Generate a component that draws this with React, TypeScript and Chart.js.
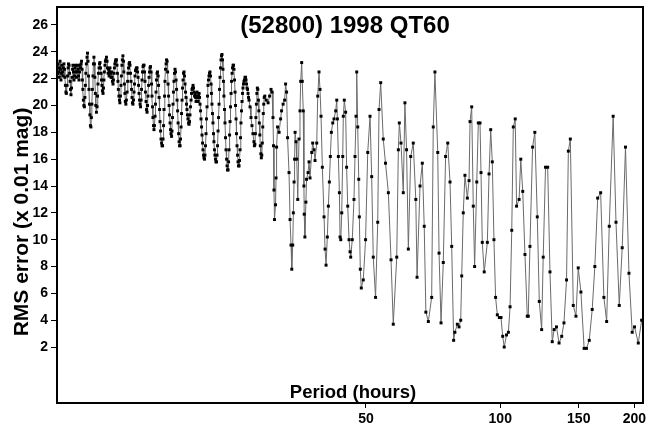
import React, { useEffect, useRef } from 'react';
import { Chart, registerables } from 'chart.js';

Chart.register(...registerables);

const chartTitle = '(52800) 1998 QT60';
const xAxisTitle = 'Period (hours)';
const yAxisTitle = 'RMS error (x 0.01 mag)';

const xTickValues = [50, 100, 150, 200];
const yTickValues = [2, 4, 6, 8, 10, 12, 14, 16, 18, 20, 22, 24, 26];

const periods = [
  10.14, 10.17, 10.19, 10.22, 10.25, 10.27, 10.30, 10.32, 10.35, 10.38, 10.40, 10.43, 10.46, 10.48, 10.51, 10.54, 10.56, 10.59, 10.62, 10.64,
  10.68, 10.71, 10.74, 10.76, 10.79, 10.82, 10.85, 10.87, 10.90, 10.93, 10.96, 10.99, 11.01, 11.04, 11.07, 11.10, 11.13, 11.15, 11.18, 11.21,
  11.24, 11.27, 11.30, 11.33, 11.36, 11.39, 11.42, 11.45, 11.48, 11.51, 11.54, 11.56, 11.59, 11.62, 11.65, 11.68, 11.71, 11.74, 11.77, 11.80,
  11.84, 11.87, 11.90, 11.93, 11.96, 11.99, 12.02, 12.05, 12.08, 12.11, 12.14, 12.17, 12.21, 12.24, 12.27, 12.30, 12.33, 12.36, 12.39, 12.43,
  12.47, 12.50, 12.53, 12.56, 12.60, 12.63, 12.66, 12.69, 12.73, 12.76, 12.79, 12.82, 12.86, 12.89, 12.92, 12.95, 12.99, 13.02, 13.05, 13.09,
  13.13, 13.16, 13.20, 13.23, 13.27, 13.30, 13.33, 13.37, 13.40, 13.44, 13.47, 13.50, 13.54, 13.57, 13.61, 13.64, 13.67, 13.71, 13.74, 13.78,
  13.82, 13.85, 13.89, 13.92, 13.96, 14.00, 14.03, 14.07, 14.11, 14.14, 14.18, 14.21, 14.25, 14.29, 14.32, 14.36, 14.40, 14.43, 14.47, 14.51,
  14.56, 14.60, 14.63, 14.67, 14.71, 14.75, 14.78, 14.82, 14.86, 14.90, 14.94, 14.97, 15.01, 15.05, 15.09, 15.13, 15.17, 15.21, 15.25, 15.29,
  15.33, 15.37, 15.41, 15.45, 15.49, 15.53, 15.57, 15.61, 15.65, 15.69, 15.73, 15.77, 15.81, 15.85, 15.89, 15.93, 15.97, 16.01, 16.06, 16.10,
  16.14, 16.18, 16.22, 16.27, 16.31, 16.35, 16.39, 16.43, 16.48, 16.52, 16.56, 16.60, 16.64, 16.69, 16.73, 16.77, 16.82, 16.86, 16.91, 16.95,
  17.00, 17.04, 17.09, 17.13, 17.18, 17.22, 17.26, 17.31, 17.35, 17.40, 17.44, 17.49, 17.53, 17.58, 17.62, 17.67, 17.71, 17.76, 17.81, 17.85,
  17.90, 17.95, 17.99, 18.04, 18.09, 18.13, 18.18, 18.22, 18.27, 18.32, 18.36, 18.41, 18.46, 18.50, 18.55, 18.60, 18.65, 18.70, 18.75, 18.80,
  18.85, 18.90, 18.95, 19.00, 19.05, 19.10, 19.14, 19.19, 19.24, 19.29, 19.34, 19.39, 19.44, 19.49, 19.54, 19.59, 19.64, 19.69, 19.74, 19.79,
  19.84, 19.89, 19.94, 20.00, 20.05, 20.10, 20.15, 20.20, 20.26, 20.31, 20.36, 20.41, 20.47, 20.52, 20.58, 20.63, 20.68, 20.74, 20.79, 20.85,
  20.90, 20.95, 21.01, 21.06, 21.12, 21.17, 21.22, 21.28, 21.33, 21.39, 21.44, 21.50, 21.55, 21.61, 21.66, 21.72, 21.77, 21.83, 21.89, 21.94,
  22.00, 22.06, 22.11, 22.17, 22.23, 22.29, 22.34, 22.40, 22.46, 22.51, 22.57, 22.63, 22.69, 22.75, 22.80, 22.86, 22.92, 22.98, 23.04, 23.11,
  23.17, 23.23, 23.29, 23.35, 23.41, 23.47, 23.53, 23.59, 23.65, 23.71, 23.77, 23.83, 23.89, 23.95, 24.01, 24.08, 24.14, 24.21, 24.27, 24.34,
  24.40, 24.46, 24.53, 24.59, 24.65, 24.72, 24.78, 24.84, 24.91, 24.97, 25.04, 25.10, 25.17, 25.23, 25.29, 25.36, 25.43, 25.49, 25.56, 25.62,
  25.69, 25.76, 25.82, 25.89, 25.96, 26.02, 26.09, 26.16, 26.22, 26.29, 26.36, 26.43, 26.49, 26.56, 26.63, 26.70, 26.77, 26.84, 26.91, 26.98,
  27.05, 27.12, 27.19, 27.26, 27.33, 27.47, 27.61, 27.75, 27.89, 28.03, 28.10, 28.17, 28.24, 28.32, 28.39, 28.46, 28.53, 28.60, 28.68, 28.75,
  28.82, 28.90, 28.97, 29.05, 29.12, 29.19, 29.27, 29.34, 29.42, 29.49, 29.57, 29.65, 29.88, 30.16, 30.39, 30.62, 30.78, 30.93, 31.01, 31.09,
  31.17, 31.34, 31.42, 31.51, 31.67, 31.92, 32.17, 32.33, 32.59, 32.85, 33.01, 33.18, 33.35, 33.60, 33.78, 33.95, 34.08, 34.25, 34.36, 34.49,
  34.58, 34.67, 34.84, 34.97, 35.15, 35.38, 35.56, 35.69, 35.87, 35.98, 36.16, 36.29, 36.34, 36.47, 36.66, 36.78, 37.07, 37.26, 37.45, 37.78,
  37.97, 38.23, 38.43, 38.77, 38.97, 39.23, 39.43, 39.64, 39.91, 40.26, 40.47, 40.68, 40.95, 41.17, 41.38, 41.59, 41.81, 42.11, 42.39, 42.76,
  42.99, 43.13, 43.35, 43.58, 43.73, 43.89, 44.11, 44.34, 44.47, 44.70, 45.01, 45.24, 45.50, 45.81, 46.04, 46.20, 46.58, 46.99, 47.24, 47.49,
  47.66, 47.91, 48.16, 48.31, 48.55, 48.80, 49.30, 49.89, 50.45, 51.05, 51.49, 51.91, 52.53, 53.12, 53.48, 53.94, 54.66, 55.30, 56.12, 56.90,
  57.56, 58.60, 59.09, 59.39, 59.91, 60.61, 61.13, 61.65, 62.22, 62.98, 63.82, 64.66, 65.08, 66.09, 66.87, 67.54, 68.11, 68.99, 70.19, 70.76,
  71.37, 72.42, 72.91, 73.66, 74.52, 75.42, 76.26, 77.16, 77.83, 78.62, 79.12, 80.13, 80.84, 81.54, 81.96, 82.62, 83.34, 84.38, 85.12, 85.56,
  86.30, 87.00, 87.61, 88.58, 89.31, 90.09, 90.55, 91.15, 92.06, 93.56, 94.38, 95.20, 95.98, 96.80, 97.63, 98.51, 99.53, 100.40, 101.27, 102.08,
  103.30, 104.30, 105.21, 106.12, 106.98, 108.05, 108.80, 110.23, 111.19, 112.32, 113.62, 114.98, 115.57, 116.58, 118.18, 119.55, 121.09, 122.34, 123.84, 124.84,
  126.34, 127.76, 129.28, 130.80, 132.11, 133.70, 135.49, 137.36, 138.96, 140.83, 142.15, 143.61, 145.81, 147.83, 149.60, 151.68, 154.22, 156.07, 158.36, 160.79,
  162.98, 165.40, 167.96, 170.78, 173.24, 175.57, 179.16, 181.79, 184.88, 187.72, 190.93, 194.39, 197.68, 200.07, 203.97, 207.54,
];

const rmsError = [
  23.0, 22.4, 23.1, 22.5, 22.1, 22.8, 23.3, 22.7, 21.9, 22.4, 23.0, 22.5, 22.2, 22.8, 23.1, 22.7, 22.1, 21.5, 21.0, 20.9,
  21.5, 22.2, 22.8, 23.1, 23.0, 22.4, 21.8, 21.2, 20.8, 21.3, 22.1, 22.7, 23.0, 22.5, 21.9, 22.2, 22.8, 23.0, 22.5, 22.1,
  22.5, 23.0, 22.7, 22.2, 21.9, 22.5, 23.0, 22.8, 23.1, 23.3, 22.7, 21.9, 21.2, 20.4, 20.0, 19.9, 20.6, 21.5, 22.4, 23.1,
  23.6, 23.9, 23.3, 22.2, 21.2, 20.1, 19.3, 18.5, 18.4, 19.1, 20.1, 21.2, 22.2, 23.1, 23.6, 23.1, 22.1, 20.9, 20.0, 19.5,
  19.9, 20.7, 21.6, 22.4, 22.8, 23.1, 23.2, 22.8, 22.4, 21.9, 21.5, 21.1, 20.9, 21.3, 21.9, 22.5, 23.0, 23.3, 23.4, 23.6,
  23.3, 22.8, 22.4, 22.7, 22.2, 22.5, 22.8, 22.4, 22.1, 22.5, 22.1, 21.8, 21.6, 21.9, 22.4, 22.8, 23.1, 23.3, 23.4, 23.4,
  23.0, 22.4, 21.8, 21.2, 20.7, 20.4, 20.2, 20.7, 21.5, 22.2, 23.0, 23.4, 23.7, 23.3, 22.5, 21.6, 20.9, 20.3, 20.1, 20.4,
  21.0, 21.8, 22.4, 22.8, 23.1, 23.2, 23.0, 22.4, 21.8, 21.2, 20.6, 20.2, 20.1, 20.4, 21.0, 21.6, 22.2, 22.6, 22.7, 22.8,
  22.8, 22.5, 22.1, 21.5, 20.9, 20.4, 20.1, 19.9, 20.4, 21.2, 21.9, 22.5, 22.9, 23.0, 23.0, 22.5, 21.8, 21.0, 20.3, 19.7,
  19.5, 20.0, 20.7, 21.5, 22.1, 22.5, 22.8, 22.9, 22.5, 21.6, 20.7, 19.9, 19.1, 18.5, 18.2, 18.5, 19.2, 20.1, 21.0, 21.9,
  22.4, 22.5, 22.2, 21.5, 20.6, 19.7, 18.8, 18.1, 17.5, 17.2, 17.0, 17.0, 17.5, 18.5, 19.7, 20.7, 21.8, 22.7, 23.1, 23.4,
  23.3, 22.5, 21.6, 20.7, 20.0, 19.3, 18.7, 18.2, 17.9, 17.7, 18.1, 19.1, 20.1, 21.0, 21.8, 22.4, 22.7, 22.5, 21.9, 21.2,
  20.4, 19.6, 18.7, 17.9, 17.3, 17.0, 17.0, 17.5, 18.4, 19.4, 20.4, 21.3, 21.9, 22.4, 22.5, 22.2, 21.6, 21.0, 20.6, 20.1,
  19.7, 19.3, 19.0, 18.7, 18.6, 18.8, 19.3, 19.9, 20.4, 20.9, 21.2, 21.3, 21.5, 21.3, 21.0, 20.7, 20.9, 20.6, 20.3, 20.7,
  21.0, 20.6, 20.3, 20.7, 20.9, 20.6, 20.1, 19.6, 19.0, 18.4, 17.8, 17.2, 16.7, 16.3, 16.1, 16.0, 16.3, 17.0, 17.9, 19.0,
  19.9, 20.7, 21.5, 21.9, 22.2, 22.4, 22.5, 22.2, 21.6, 20.9, 20.1, 19.4, 18.7, 17.9, 17.3, 16.7, 16.3, 16.0, 15.8, 15.8,
  16.3, 17.0, 18.1, 19.1, 20.1, 21.2, 22.1, 22.8, 23.4, 23.7, 23.8, 23.4, 22.7, 21.8, 20.7, 19.7, 18.7, 17.6, 16.7, 16.0,
  15.5, 15.2, 15.2, 15.8, 16.7, 17.8, 18.8, 19.9, 20.9, 21.8, 22.4, 22.8, 23.0, 23.0, 22.7, 21.9, 21.0, 20.0, 19.0, 17.9,
  17.0, 16.3, 15.8, 15.5, 15.5, 15.9, 16.7, 17.6, 18.7, 19.6, 20.3, 20.9, 21.3, 21.6, 21.8, 21.9, 22.1, 22.1, 21.9, 21.6,
  21.3, 21.2, 20.9, 20.6, 20.4, 19.9, 19.1, 18.5, 17.9, 17.3, 17.0, 17.1, 17.9, 19.1, 20.1, 20.9, 21.3, 21.2, 20.4, 19.6,
  18.7, 17.8, 17.0, 16.4, 16.1, 16.3, 17.2, 18.4, 19.4, 20.1, 20.6, 20.7, 20.4, 20.2, 20.7, 21.2, 21.0, 19.1, 17.0, 13.7,
  11.5, 12.6, 14.6, 16.9, 18.4, 18.0, 19.0, 19.6, 20.1, 20.4, 21.6, 21.0, 17.6, 15.0, 11.5, 9.6, 7.8, 9.6, 12.0, 14.3,
  16.0, 18.0, 17.3, 16.0, 13.0, 17.5, 19.6, 21.8, 23.2, 21.8, 19.6, 14.0, 11.9, 10.2, 12.8, 14.5, 15.0, 15.8, 14.6, 16.5,
  17.2, 16.7, 15.9, 17.2, 20.7, 22.5, 21.2, 19.2, 15.4, 11.7, 9.3, 8.1, 10.2, 12.5, 14.3, 16.2, 18.0, 18.7, 19.0, 19.6,
  20.4, 19.0, 16.2, 13.5, 10.2, 10.0, 12.0, 16.2, 19.2, 20.4, 19.5, 15.4, 12.5, 10.0, 9.1, 8.7, 10.0, 13.0, 16.2, 19.2,
  22.5, 18.4, 14.5, 11.7, 7.8, 6.4, 7.0, 10.0, 16.5, 19.2, 14.7, 8.7, 5.7, 11.3, 19.7, 21.7, 17.5, 15.7, 13.5, 8.5,
  3.7, 8.7, 16.7, 18.7, 17.2, 13.5, 20.2, 16.7, 9.3, 16.2, 17.2, 13.0, 7.2, 14.0, 15.7, 11.0, 4.6, 3.9, 5.7, 18.4,
  22.5, 16.5, 9.0, 3.8, 8.3, 16.2, 17.2, 14.3, 9.5, 2.5, 3.1, 3.7, 3.5, 4.0, 7.3, 12.0, 14.8, 13.1, 14.4, 18.8,
  19.9, 12.5, 8.0, 14.3, 18.7, 18.7, 15.0, 9.8, 7.6, 9.8, 14.9, 18.2, 15.8, 10.0, 5.7, 4.4, 4.2, 4.2, 2.8, 2.0,
  2.9, 3.1, 5.0, 10.7, 18.4, 19.0, 12.5, 13.0, 16.0, 13.6, 8.9, 4.3, 4.3, 9.5, 16.9, 18.0, 11.7, 5.4, 3.3, 8.7,
  15.4, 15.4, 7.6, 2.4, 3.3, 3.5, 2.3, 2.8, 3.8, 7.0, 16.6, 17.5, 5.1, 4.3, 7.9, 6.1, 1.9, 1.9, 2.5, 4.8,
  8.0, 13.1, 13.5, 5.7, 3.9, 11.0, 19.2, 11.3, 5.1, 9.4, 16.9, 7.5, 3.1, 3.5, 2.3, 4.0,
];

const FONT = '"Liberation Sans", Arial, Helvetica, sans-serif';

export default function App() {
  const canvasRef = useRef<HTMLCanvasElement | null>(null);

  useEffect(() => {
    document.body.style.margin = '0';
    const canvas = canvasRef.current;
    if (!canvas) return;

    const labelsPlugin = {
      id: 'frameAndLabels',
      afterDraw(chart: any) {
        const { ctx, chartArea: a } = chart;
        ctx.save();
        ctx.strokeStyle = '#000';
        ctx.lineWidth = 2;
        ctx.strokeRect(a.left, a.top, a.right - a.left, a.bottom - a.top);
        ctx.fillStyle = '#000';
        ctx.textAlign = 'center';
        ctx.textBaseline = 'middle';
        ctx.font = `bold 24px ${FONT}`;
        ctx.fillText(chartTitle, (a.left + a.right) / 2 - 5, a.top + 19);
        ctx.font = `bold 18.5px ${FONT}`;
        ctx.textBaseline = 'alphabetic';
        ctx.fillText(xAxisTitle, (a.left + a.right) / 2 + 3, a.bottom - 5);
        ctx.translate(22, 222);
        ctx.rotate(-Math.PI / 2);
        ctx.textBaseline = 'middle';
        ctx.font = `bold 21px ${FONT}`;
        ctx.fillText(yAxisTitle, 0, 0);
        ctx.restore();
      },
    };

    const chart = new Chart(canvas, {
      type: 'line',
      data: {
        datasets: [
          {
            data: periods.map((p, i) => ({ x: p, y: rmsError[i] })),
            borderColor: '#6a6a6a',
            borderWidth: 1,
            pointStyle: 'rect',
            pointRadius: 2.1,
            pointBackgroundColor: '#000',
            pointBorderColor: '#000',
            pointBorderWidth: 0,
            tension: 0,
          },
        ],
      },
      options: {
        animation: false,
        responsive: true,
        maintainAspectRatio: false,
        devicePixelRatio: 1,
        layout: { padding: { top: 7, right: 12, left: 0, bottom: 0 } },
        plugins: {
          legend: { display: false },
          title: { display: false },
          tooltip: { enabled: false },
        },
        scales: {
          x: {
            type: 'logarithmic',
            min: 10.14,
            max: 209,
            afterBuildTicks: (scale: any) => {
              scale.ticks = xTickValues.map((v) => ({ value: v }));
            },
            afterFit: (scale: any) => {
              scale.height = 24;
              scale.paddingLeft = 0;
              scale.paddingRight = 0;
            },
            ticks: {
              autoSkip: false,
              maxRotation: 0,
              padding: 3,
              color: '#000',
              font: { family: FONT, size: 14, weight: 'bold' },
              callback: (v: any) => String(v),
            },
            grid: { drawOnChartArea: false, drawTicks: true, tickLength: 5, color: '#000' },
            border: { display: false },
          },
          y: {
            type: 'linear',
            min: -2.17,
            max: 27.34,
            afterBuildTicks: (scale: any) => {
              scale.ticks = yTickValues.map((v) => ({ value: v }));
            },
            afterFit: (scale: any) => {
              scale.width = 57;
              scale.paddingTop = 0;
              scale.paddingBottom = 0;
            },
            ticks: {
              autoSkip: false,
              padding: 3,
              color: '#000',
              font: { family: FONT, size: 14, weight: 'bold' },
              callback: (v: any) => String(v),
            },
            grid: { drawOnChartArea: false, drawTicks: true, tickLength: 6, color: '#000' },
            border: { display: false },
          },
        },
      },
      plugins: [labelsPlugin],
    });

    return () => {
      chart.destroy();
    };
  }, []);

  return (
    <div style={{ width: 655, height: 427, position: 'relative', background: '#fff' }}>
      <canvas ref={canvasRef} />
    </div>
  );
}
